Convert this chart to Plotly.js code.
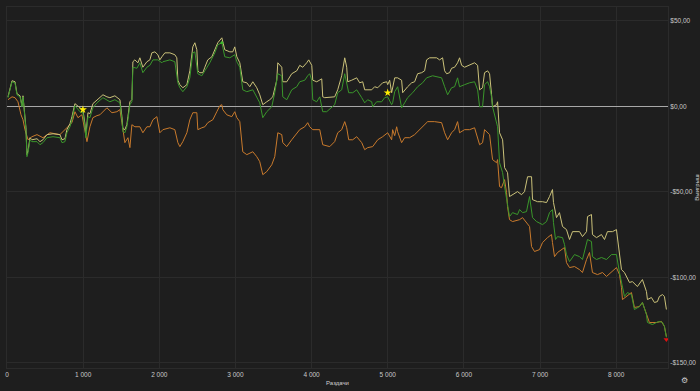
<!DOCTYPE html>
<html><head><meta charset="utf-8">
<script src="https://cdn.plot.ly/plotly-3.0.1.min.js"></script>
<style>html,body{margin:0;padding:0;background:#1e1e1e;}#chart{width:700px;height:391px;}</style>
</head><body><div id="chart"></div>
<script>
// Hands (x) and winnings in $ (y)
const yellowX = [13,66,105,131,171,197,210,223,249,262,276,302,328,394,433,472,525,604,695,722,761,787,827,853,892,958,997,1023,1036,1063,1089,1128,1181,1260,1312,1351,1417,1483,1509,1522,1548,1574,1588,1614,1640,1653,1679,1719,1745,1784,1837,1876,1902,1942,1981,2007,2034,2073,2139,2204,2230,2244,2270,2309,2362,2401,2440,2467,2493,2506,2532,2572,2598,2637,2690,2729,2768,2821,2834,2860,2926,2965,2991,3018,3057,3096,3149,3188,3228,3280,3319,3359,3411,3451,3490,3542,3556,3608,3621,3674,3739,3805,3844,3884,3936,3962,4002,4015,4067,4107,4133,4146,4172,4303,4343,4395,4435,4461,4474,4526,4592,4631,4671,4697,4789,4828,4868,4933,4986,4999,5025,5051,5064,5091,5130,5182,5196,5222,5261,5314,5353,5392,5445,5484,5510,5550,5642,5681,5720,5747,5773,5812,5838,5878,5917,5943,5970,6009,6075,6140,6180,6206,6245,6271,6311,6337,6363,6376,6429,6442,6468,6508,6534,6573,6599,6639,6704,6757,6796,6836,6888,6901,6967,7032,7085,7124,7163,7176,7216,7255,7295,7347,7387,7426,7518,7557,7610,7623,7675,7688,7741,7806,7846,7885,7951,8003,8043,8069,8108,8174,8213,8278,8344,8397,8410,8462,8502,8541,8567,8607,8633,8659];
const yellowY = [5.5,14.9,14.3,7.3,6.1,0.3,6.1,0.3,-12.6,-28.3,-26.0,-18.4,-19.6,-19.0,-20.7,-19.6,-16.6,-16.1,-16.6,-19.6,-19.0,-13.7,-10.2,-6.1,1.5,-0.9,-2.0,-10.2,-16.6,-3.8,-4.4,1.5,3.8,6.7,5.5,5.0,6.1,3.8,-6.1,-13.1,-13.7,-10.8,-6.1,2.6,3.8,26.0,27.1,25.4,28.3,22.8,26.0,27.1,31.2,31.8,30.1,27.1,28.9,31.2,31.2,30.1,28.3,15.2,12.6,10.8,12.6,20.7,34.7,37.1,33.0,20.7,19.6,19.6,22.8,27.1,28.9,33.0,37.1,40.0,37.1,33.0,31.8,31.8,34.7,28.9,25.4,14.3,13.7,11.4,14.3,10.8,6.7,0.9,2.6,3.8,5.5,15.2,25.4,22.8,14.3,14.3,19.0,20.7,23.9,22.8,25.4,27.1,23.9,15.2,14.3,15.2,16.0,5.5,5.0,5.5,9.6,17.8,28.3,22.8,14.3,15.2,16.6,13.7,14.3,9.6,9.6,11.4,10.8,13.7,14.3,12.6,15.2,7.9,10.8,16.6,16.6,15.2,7.9,9.6,11.4,13.7,14.3,19.0,19.6,20.7,27.1,28.3,28.3,27.1,28.3,20.7,19.0,19.6,22.2,22.8,25.4,28.3,23.9,22.8,23.9,25.4,23.9,9.6,10.8,19.6,20.7,19.0,6.7,-0.3,0.9,2.6,-15.5,-19.6,-35.9,-38.8,-52.8,-51.7,-49.9,-51.7,-49.9,-41.2,-41.2,-54.6,-55.8,-55.8,-56.3,-52.8,-48.7,-56.3,-65.1,-62.2,-70.3,-72.1,-77.9,-73.3,-73.3,-76.2,-73.3,-64.5,-63.3,-75.0,-76.8,-75.0,-77.9,-73.3,-73.3,-72.1,-85.5,-95.5,-97.2,-103.0,-102.5,-105.4,-101.3,-108.3,-113.0,-111.8,-114.7,-114.2,-111.2,-110.1,-111.2,-118.8];

const greenX = [13,66,105,131,171,197,210,223,249,262,276,302,328,394,433,472,525,604,695,722,761,787,827,853,892,958,997,1023,1036,1063,1089,1128,1181,1260,1312,1351,1417,1483,1509,1522,1548,1574,1588,1614,1640,1653,1706,1745,1784,1837,1876,1916,1981,2034,2047,2139,2204,2244,2270,2309,2362,2401,2440,2467,2506,2558,2598,2663,2729,2768,2821,2834,2860,2926,2991,3018,3057,3096,3149,3228,3280,3319,3359,3411,3477,3516,3556,3608,3621,3674,3739,3805,3844,3910,3949,3975,4002,4015,4067,4107,4133,4146,4198,4264,4303,4343,4395,4435,4461,4487,4540,4592,4658,4697,4736,4789,4802,4854,4920,4959,4999,5051,5064,5091,5130,5182,5222,5261,5327,5392,5458,5510,5589,5707,5747,5786,5838,5878,5917,5943,6009,6075,6140,6180,6206,6245,6271,6311,6337,6363,6376,6429,6442,6468,6508,6534,6560,6573,6599,6639,6704,6731,6770,6822,6862,6901,6954,7032,7085,7124,7163,7176,7203,7229,7295,7321,7347,7387,7452,7518,7557,7623,7675,7688,7741,7806,7872,7938,8003,8043,8069,8108,8148,8200,8239,8305,8344,8397,8410,8476,8528,8567,8607,8633,8659];
const greenY = [5.0,14.3,13.7,6.7,5.5,-0.3,5.5,-0.3,-13.7,-29.5,-27.1,-19.6,-20.7,-20.7,-22.5,-21.3,-18.4,-17.8,-18.4,-21.3,-20.7,-15.5,-12.0,-7.9,0.3,-3.2,-3.8,-12.0,-18.4,-6.1,-6.7,-0.9,2.0,5.0,3.8,2.6,3.8,2.0,-7.9,-14.9,-15.5,-12.0,-7.9,0.9,2.6,22.8,22.2,25.4,19.6,22.8,23.9,27.1,27.1,25.4,26.0,27.1,26.0,13.7,10.8,8.5,11.4,16.6,31.2,31.8,19.0,17.8,20.7,25.4,31.2,35.9,37.1,34.7,28.9,28.3,30.1,26.0,22.8,9.6,8.5,9.6,5.5,2.0,-6.7,-3.2,-0.3,7.9,19.0,17.8,5.5,3.8,9.6,11.4,14.3,15.2,17.8,19.0,15.2,3.8,2.6,5.5,-0.3,-3.2,-3.2,-0.9,0.9,7.9,9.6,19.0,13.7,7.9,7.9,9.6,5.0,2.0,3.8,2.6,-0.3,2.6,2.6,5.0,5.5,0.9,2.0,8.5,11.4,-0.9,2.0,5.0,7.9,11.4,13.7,16.6,17.8,16.6,11.4,6.7,10.8,11.4,16.6,11.4,12.6,13.7,14.3,9.6,-0.3,-0.3,12.6,14.3,11.4,5.5,-0.3,-9.6,-12.0,-33.0,-38.8,-47.0,-54.6,-58.7,-64.5,-62.2,-63.3,-60.4,-62.2,-61.6,-52.8,-65.1,-67.4,-69.2,-67.4,-62.2,-60.4,-68.0,-77.9,-76.2,-76.8,-80.9,-86.7,-90.8,-86.7,-87.9,-89.6,-77.9,-79.1,-87.9,-89.6,-88.4,-89.6,-86.7,-86.7,-97.2,-103.0,-111.2,-108.9,-110.1,-118.8,-117.1,-114.7,-121.7,-126.4,-127.6,-126.4,-125.8,-126.4,-128.7,-135.1];

const orangeX = [13,66,105,144,184,210,236,276,328,394,472,564,695,761,800,853,892,932,984,1023,1050,1089,1128,1181,1220,1312,1378,1443,1483,1509,1548,1588,1614,1640,1679,1745,1784,1837,1876,1916,1968,2007,2047,2139,2204,2244,2270,2309,2362,2401,2440,2493,2506,2558,2598,2637,2703,2755,2795,2821,2834,2886,2952,2991,3018,3057,3096,3149,3228,3280,3319,3359,3411,3477,3516,3556,3608,3621,3674,3739,3805,3844,3910,3949,3975,4015,4107,4133,4146,4238,4303,4343,4395,4435,4461,4487,4540,4592,4658,4697,4736,4802,4868,4933,4999,5051,5064,5091,5117,5130,5182,5222,5287,5353,5419,5458,5524,5615,5707,5747,5786,5838,5878,5917,5943,6009,6075,6140,6180,6206,6245,6271,6337,6363,6376,6429,6442,6468,6494,6534,6560,6573,6599,6639,6704,6731,6770,6822,6862,6888,6927,6993,7032,7098,7150,7163,7190,7229,7282,7321,7347,7387,7452,7518,7557,7610,7649,7688,7754,7820,7872,7938,8003,8043,8069,8082,8134,8200,8239,8305,8344,8397,8436,8528,8594,8633,8659];
const orangeY = [3.8,5.5,5.0,2.6,-5.0,-7.9,-13.7,-19.6,-17.8,-16.6,-18.4,-15.5,-16.6,-13.7,-12.0,-9.6,-3.2,-6.7,-5.0,-15.5,-20.7,-12.0,-6.7,-5.5,-5.0,-0.9,-3.8,-3.2,-2.0,-9.6,-21.3,-18.4,-24.2,-10.8,-12.0,-12.0,-15.5,-12.0,-12.0,-7.9,-6.1,-15.5,-13.7,-12.6,-13.7,-21.3,-23.6,-20.7,-15.5,-7.9,-3.8,-3.8,-13.7,-12.6,-12.0,-9.6,-7.9,-3.2,0.3,0.9,-2.0,-5.0,-6.1,-3.2,-6.7,-9.0,-26.6,-28.3,-26.6,-29.5,-32.4,-40.0,-38.2,-34.2,-29.5,-15.5,-16.6,-21.3,-23.6,-19.6,-15.5,-13.7,-12.0,-9.6,-12.0,-13.7,-13.7,-19.6,-22.5,-23.6,-20.7,-15.5,-13.7,-9.0,-12.6,-19.6,-19.6,-17.8,-21.3,-25.4,-24.2,-23.6,-19.6,-17.8,-15.5,-19.6,-13.7,-17.2,-12.0,-14.9,-21.3,-18.4,-18.4,-16.6,-13.7,-12.0,-9.0,-9.0,-9.6,-15.5,-19.6,-15.5,-13.7,-9.0,-15.5,-13.7,-13.7,-12.6,-17.8,-22.5,-21.3,-13.7,-16.6,-27.1,-31.2,-33.0,-31.2,-47.0,-47.6,-42.9,-50.5,-58.7,-66.3,-67.4,-66.3,-66.3,-65.1,-68.0,-70.3,-82.0,-84.9,-83.8,-79.7,-76.8,-75.0,-79.7,-87.9,-85.5,-83.8,-82.6,-91.4,-94.3,-93.7,-95.5,-97.2,-89.6,-85.5,-97.2,-98.4,-97.2,-99.5,-96.6,-94.3,-98.4,-106.0,-113.0,-111.2,-108.9,-117.6,-117.1,-114.7,-121.7,-126.4,-126.4,-125.8,-128.7,-134.6];

const starX = [997, 4999];
const starY = [-2.0, 7.9];
const maxX = [2821], maxY = [37.1];
const minX = [8659], minY = [-136.3];

const xTickVals = [0,1000,2000,3000,4000,5000,6000,7000,8000];
const xTickText = ["0","1 000","2 000","3 000","4 000","5 000","6 000","7 000","8 000"];
const yTickVals = [50,0,-50,-100,-150];
const yTickText = ["$50,00","$0,00","-$50,00","-$100,00","-$150,00"];

const lw = 1.0;
const traces = [
  {x: orangeX, y: orangeY, mode:'lines', line:{color:'#c97a2c', width:lw}, hoverinfo:'skip'},
  {x: yellowX, y: yellowY, mode:'lines', line:{color:'#cbc27a', width:lw}, hoverinfo:'skip'},
  {x: greenX, y: greenY, mode:'lines', line:{color:'#3a962b', width:lw}, hoverinfo:'skip'},
  {x: starX, y: starY, mode:'markers', marker:{symbol:'star', size:6, color:'#ffee00'}, hoverinfo:'skip'},
  {x: maxX, y: maxY, mode:'markers', marker:{symbol:'triangle-up', size:4, color:'#3fbf2e'}, hoverinfo:'skip'},
  {x: minX, y: minY, mode:'markers', marker:{symbol:'triangle-down', size:5, color:'#e01010'}, hoverinfo:'skip'}
];
const font = {family:'Liberation Sans, Arial, sans-serif', size:6.5, color:'#c8c8c8'};
const layout = {
  width:700, height:391,
  paper_bgcolor:'#1e1e1e', plot_bgcolor:'#1e1e1e',
  margin:{l:7, r:32, t:7, b:23},
  showlegend:false,
  font: font,
  xaxis:{range:[0,8680], tickvals:xTickVals, ticktext:xTickText, showgrid:true, gridcolor:'#2b2b2b', gridwidth:1,
         zeroline:false, showline:true, linecolor:'#2b2b2b', mirror:true, ticks:'', tickfont:font,
         title:{text:'Раздачи', font:{family:'Liberation Sans, Arial, sans-serif', size:6, color:'#d0d0d0'}, standoff:4}},
  yaxis:{range:[-153,58], side:'right', tickvals:yTickVals, ticktext:yTickText, showgrid:true, gridcolor:'#2b2b2b', gridwidth:1,
         zeroline:true, zerolinecolor:'#a8a8a8', zerolinewidth:1.2, showline:true, linecolor:'#2b2b2b', mirror:true, ticks:'', tickfont:font,
         title:{text:'Выигрыш', font:{family:'Liberation Sans, Arial, sans-serif', size:6, color:'#d0d0d0'}, standoff:4}},
  annotations:[{xref:'paper', yref:'paper', x:1.033, y:-0.052, text:'⚙', showarrow:false, font:{size:8, color:'#cfcfcf'}}]
};
Plotly.newPlot('chart', traces, layout, {displayModeBar:false, staticPlot:true});
</script></body></html>
